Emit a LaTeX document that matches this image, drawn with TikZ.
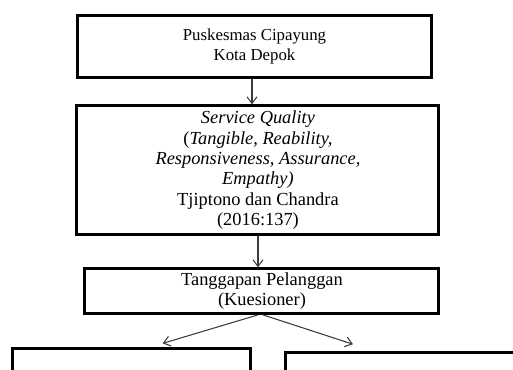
\documentclass[tikz,border=0pt]{standalone}
\usepackage{fontspec}
\setmainfont{Liberation Serif}
\usetikzlibrary{arrows.meta,positioning}
\definecolor{arrowColor}{RGB}{60,60,60}
\tikzset{block/.style={draw, line width=2.25pt, align=center, inner sep=0pt, font=\fontsize{13.8}{15.3}\selectfont}}
\tikzset{flow/.style={draw=arrowColor, line width=0.8pt, -{Straight Barb[length=5pt,width=7.5pt]}}}

\begin{document}
\begin{tikzpicture}[x=0.75pt,y=-0.75pt]
% Frame
\useasboundingbox (0,0) rectangle (513,369);
\clip (0,0) rectangle (513,369);

% Nodes
\node (puskesmas) [block, minimum width=266pt, minimum height=46.5pt, font=\fontsize{12.6}{15}\selectfont] at (254.5,46.5) {Puskesmas Cipayung\\ Kota Depok};
\node (service_quality) [block, below=19pt of puskesmas, xshift=2.6pt, minimum width=271.5pt, minimum height=96.75pt] {\textit{Service Quality}\\ (\textit{Tangible, Reability,}\\ \textit{Responsiveness, Assurance,}\\ \textit{Empathy)}\\ Tjiptono dan Chandra\\ (2016:137)};
\node (tanggapan) [block, below=23.25pt of service_quality, xshift=3pt, minimum width=265.5pt, minimum height=33.4pt] {Tanggapan Pelanggan\\ (Kuesioner)};

\node (hasil_kiri) [block, below=24.4pt of tanggapan, xshift=-97.5pt, minimum width=178.5pt, minimum height=40pt] {};
\node (hasil_kanan) [block, below=27pt of tanggapan, xshift=138pt, minimum width=240pt, minimum height=40pt] {};

% Connectors
\draw [flow] ([xshift=-1.9pt]puskesmas.south) -- ([xshift=-1.9pt]puskesmas.south |- service_quality.north);
\draw [flow] (service_quality.south) -- (service_quality.south |- tanggapan.north);
\draw [flow] ([xshift=-3pt]tanggapan.south) -- ([xshift=23pt,yshift=3pt]hasil_kiri.north);
\draw [flow] ([xshift=0.75pt]tanggapan.south) -- ([xshift=-69.75pt,yshift=5pt]hasil_kanan.north);

\end{tikzpicture}
\end{document}
